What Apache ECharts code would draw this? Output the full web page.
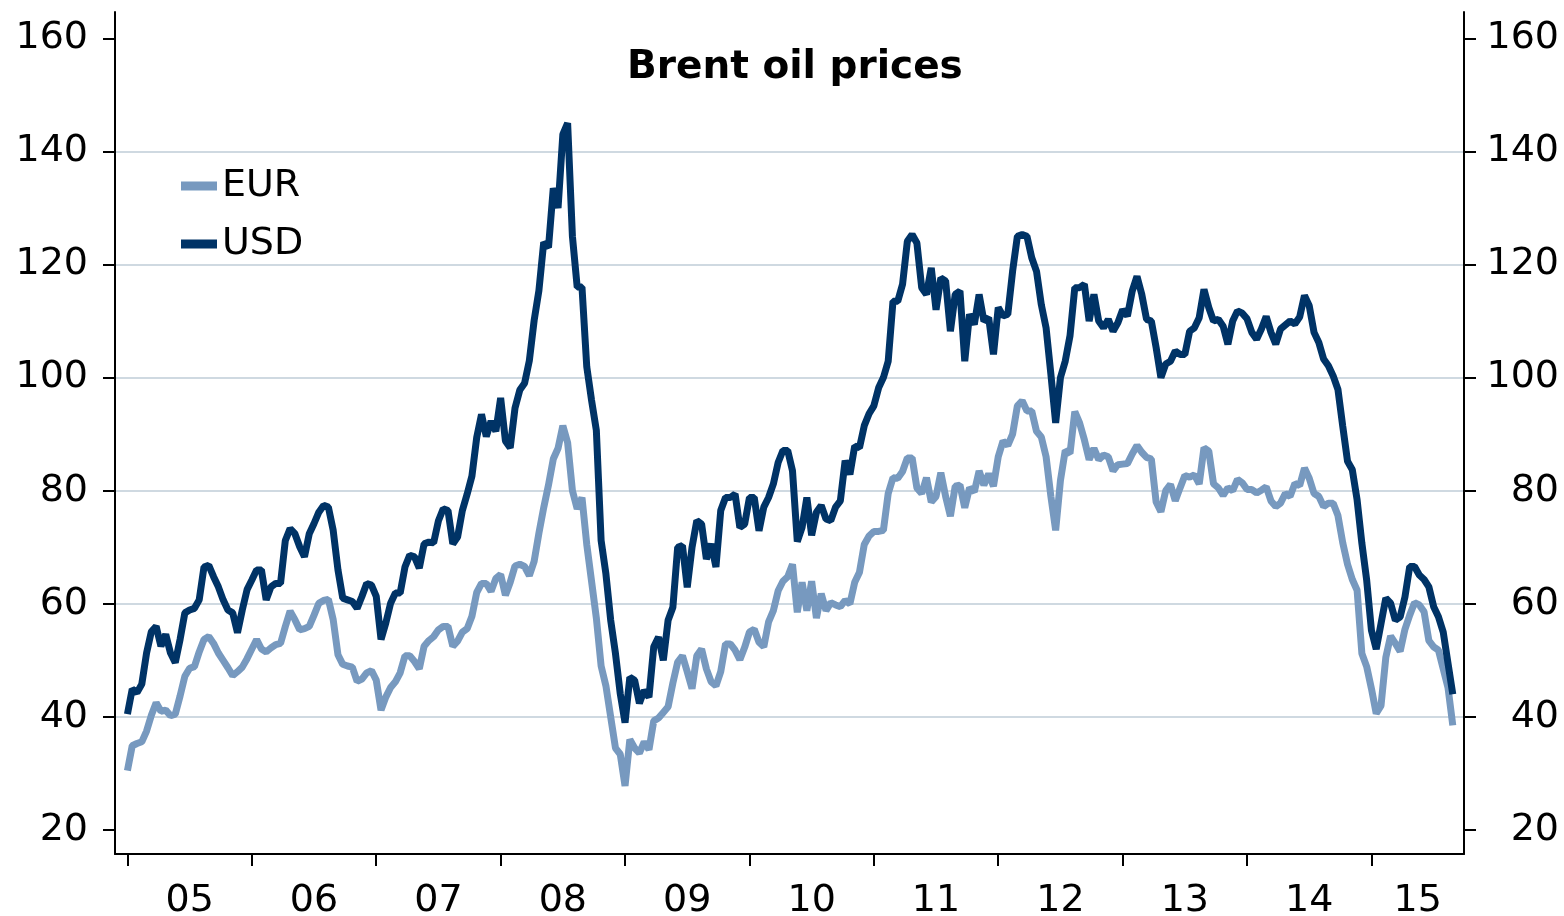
<!DOCTYPE html>
<html>
<head>
<meta charset="utf-8">
<title>Brent oil prices</title>
<script src="https://cdn.jsdelivr.net/npm/echarts@6/dist/echarts.min.js"></script>
<style>
  html, body { margin: 0; padding: 0; background: #fff; }
  #chart { width: 1564px; height: 916px; }
</style>
</head>
<body>
<div id="chart"></div>
<script>
// Brent oil prices per barrel, one reading every two weeks from January 2005
const startYear = 2005;
const perYear = 26;

const usd = [
  40.5, 44.9, 44.3, 45.8, 51.3, 55.1, 56.0, 52.5, 54.6, 51.3, 49.6, 53.7, 58.4, 58.9, 59.2, 60.7, 66.5, 66.8, 64.8, 63.0, 60.7, 58.9, 58.4, 54.9, 58.9, 62.5,
  64.2, 66.0, 66.0, 60.7, 63.0, 63.6, 63.6, 71.2, 73.3, 72.4, 70.1, 68.3, 72.4, 74.2, 76.2, 77.4, 77.1, 73.0, 66.0, 61.0, 60.7, 60.4, 59.2, 61.3, 63.6, 63.3,
  61.3, 53.7, 56.6, 60.1, 61.9, 61.9, 66.5, 68.6, 68.3, 66.3, 70.6, 70.9, 70.8, 74.7, 76.8, 76.5, 70.6, 71.8, 76.5, 79.4, 82.6, 89.4, 93.5, 89.6, 92.3, 90.5,
  96.4, 88.8, 87.6, 94.6, 97.8, 99.0, 103.0, 110.1, 115.4, 123.9, 123.0, 133.5, 130.0, 143.0, 145.0, 125.0, 116.0, 116.0, 101.9, 96.0, 90.7, 71.2, 65.3, 57.1, 51.2, 44.1,
  39.0, 47.0, 46.5, 42.4, 44.7, 43.5, 52.4, 54.1, 50.0, 57.1, 59.4, 70.0, 70.3, 62.9, 70.0, 74.7, 74.1, 67.9, 70.6, 66.5, 76.5, 78.8, 78.8, 79.4, 73.5, 74.1,
  78.8, 78.8, 72.9, 77.1, 78.8, 81.2, 85.0, 87.1, 87.1, 83.5, 71.0, 73.5, 78.8, 72.1, 76.2, 77.4, 75.0, 74.7, 77.1, 78.2, 85.3, 82.9, 87.9, 87.6, 91.5, 93.6,
  95.0, 98.2, 100.0, 102.9, 113.5, 113.5, 116.5, 124.1, 125.3, 123.8, 115.9, 114.7, 119.4, 112.0, 117.6, 117.1, 108.2, 114.7, 115.3, 102.9, 111.2, 109.4, 114.7, 110.0, 110.6, 104.1,
  112.4, 110.9, 111.2, 118.8, 125.0, 125.3, 125.0, 121.2, 118.8, 112.9, 108.8, 100.6, 92.0, 100.0, 102.9, 107.4, 115.9, 115.9, 116.5, 110.0, 114.7, 110.0, 108.8, 110.3, 108.2, 109.7,
  112.0, 110.9, 115.3, 117.9, 114.7, 110.3, 110.0, 105.3, 100.0, 102.4, 102.9, 104.7, 104.1, 104.1, 108.2, 108.8, 110.6, 115.6, 112.4, 110.0, 110.3, 109.1, 105.9, 110.0, 111.8, 111.4,
  110.4, 108.0, 106.8, 108.6, 110.8, 108.0, 105.9, 108.6, 109.3, 110.0, 109.5, 110.7, 114.5, 112.7, 108.0, 106.2, 103.3, 102.1, 100.3, 97.9, 91.4, 85.2, 83.7, 78.4, 70.7, 64.2,
  55.3, 52.0, 56.5, 61.0, 60.1, 57.1, 57.7, 61.2, 66.6, 66.6, 65.1, 64.3, 63.0, 59.5, 57.7, 55.0, 49.5, 44.0
];

const eur = [
  30.5, 34.9, 35.3, 35.6, 37.5, 40.3, 42.5, 41.0, 41.2, 40.2, 40.5, 43.7, 47.2, 48.6, 48.9, 51.5, 53.7, 54.2, 53.0, 51.3, 50.0, 48.7, 47.3, 48.0, 48.8, 50.3,
  52.0, 53.7, 52.0, 51.5, 52.2, 52.8, 53.0, 56.0, 58.7, 57.2, 55.4, 55.6, 56.0, 58.0, 60.1, 60.6, 60.8, 57.2, 51.0, 49.3, 49.0, 48.8, 46.3, 46.7, 47.8, 48.2,
  46.5, 41.2, 43.5, 45.2, 46.2, 47.8, 50.8, 50.8, 49.8, 48.5, 52.5, 53.5, 54.2, 55.4, 56.0, 56.0, 52.5, 53.4, 55.0, 55.6, 57.8, 62.0, 63.6, 63.6, 62.2, 64.5,
  65.2, 61.5, 63.8, 66.7, 67.0, 66.6, 65.0, 67.5, 72.5, 77.0, 81.0, 85.6, 87.5, 91.5, 88.5, 80.0, 76.8, 78.8, 70.5, 64.0, 57.5, 49.0, 45.5, 40.0, 34.5, 33.4,
  27.8, 36.0, 34.5, 33.6, 35.6, 34.2, 39.3, 39.8, 40.8, 41.8, 46.0, 49.7, 50.8, 48.0, 45.0, 50.8, 52.0, 48.5, 46.2, 45.5, 48.0, 52.9, 52.9, 51.8, 50.1, 52.3,
  55.0, 55.5, 53.2, 52.4, 56.8, 58.8, 62.3, 64.0, 64.8, 67.0, 58.5, 63.8, 58.8, 64.0, 57.5, 61.8, 58.8, 60.2, 59.8, 59.5, 60.6, 60.0, 63.8, 65.6, 70.5, 72.0,
  72.8, 72.8, 73.0, 79.5, 82.3, 82.2, 83.4, 85.8, 85.8, 80.5, 79.5, 82.3, 78.0, 79.0, 83.2, 79.0, 75.5, 80.8, 81.0, 77.0, 80.5, 79.8, 83.5, 81.0, 83.0, 80.8,
  86.0, 88.8, 88.0, 90.0, 95.0, 95.9, 94.1, 94.1, 90.5, 89.5, 86.0, 79.0, 73.0, 81.8, 87.1, 86.6, 94.0, 92.0, 89.0, 85.5, 87.5, 85.5, 86.3, 86.0, 83.5, 84.6,
  84.7, 84.8, 86.5, 88.0, 86.8, 85.9, 85.6, 78.0, 76.3, 80.0, 81.1, 78.2, 80.5, 82.7, 82.4, 82.8, 81.2, 87.6, 87.0, 81.2, 80.5, 79.2, 80.5, 80.0, 82.0, 81.4,
  80.2, 80.2, 79.6, 80.1, 80.7, 78.2, 77.2, 77.8, 79.5, 79.0, 81.3, 80.9, 84.0, 82.2, 79.5, 79.0, 77.2, 77.8, 77.8, 75.6, 70.8, 67.0, 64.3, 62.4, 51.2, 48.9,
  45.0, 40.6, 42.0, 50.5, 54.3, 53.0, 51.6, 55.5, 58.0, 60.2, 59.8, 58.6, 53.5, 52.4, 51.8, 48.5, 45.2, 38.5
];

const yTicks = [20, 40, 60, 80, 100, 120, 140, 160];
const yearTicks = [2005, 2006, 2007, 2008, 2009, 2010, 2011, 2012, 2013, 2014, 2015];
const yearLabels = ['05', '06', '07', '08', '09', '10', '11', '12', '13', '14', '15'];

const xMin = 2004.9, xMax = 2015.744;
const yMin = 15.76, yMax = 164.65;

const font = 'DejaVu Sans';
const eurColor = '#7799bf';
const usdColor = '#003366';

const toPairs = vals => vals.map((v, i) => [startYear + i / perYear, v]);
// labels sit in the middle of each year (last one: middle of the visible part)
const labelPos = yearTicks.map((y, i) => i < yearTicks.length - 1 ? y + 0.5 : (y + xMax) / 2);

const chart = echarts.init(document.getElementById('chart'));

const yAxisBase = {
  type: 'value',
  min: yMin,
  max: yMax,
  splitNumber: 7,
  minInterval: 20,
  maxInterval: 20,
  axisLine: { show: true, lineStyle: { color: '#000', width: 2 } },
  axisTick: { show: true, length: 12, lineStyle: { color: '#000', width: 2 }, customValues: yTicks },
};

chart.setOption({
  animation: false,
  backgroundColor: '#fff',
  textStyle: { fontFamily: font },
  title: {
    text: 'Brent oil prices',
    left: 622,
    top: 43,
    textStyle: { fontFamily: font, fontSize: 39, fontWeight: 'bold', color: '#000' }
  },
  legend: {
    data: ['EUR', 'USD'],
    orient: 'vertical',
    left: 176,
    top: 162,
    itemGap: 20,
    itemWidth: 36,
    itemHeight: 9,
    icon: 'rect',
    textStyle: { fontFamily: font, fontSize: 38, color: '#000' }
  },
  grid: { left: 115, right: 100, top: 12, bottom: 62, containLabel: false, outerBoundsMode: 'none' },
  xAxis: {
    type: 'value',
    min: xMin,
    max: xMax,
    splitLine: { show: false },
    axisLine: { lineStyle: { color: '#000', width: 2 } },
    axisTick: { length: 12, lineStyle: { color: '#000', width: 2 }, customValues: yearTicks },
    axisLabel: {
      customValues: labelPos,
      margin: 28,
      fontSize: 38,
      fontFamily: font,
      color: '#000',
      formatter: v => yearLabels[yearTicks.indexOf(Math.floor(v))]
    }
  },
  yAxis: [
    Object.assign({}, yAxisBase, {
      position: 'left',
      splitLine: { show: true, showMinLine: false, showMaxLine: false, lineStyle: { color: '#cfd9e1', width: 2 } },
      axisLabel: { customValues: yTicks, margin: 27, fontSize: 38, fontFamily: font, color: '#000' }
    }),
    Object.assign({}, yAxisBase, {
      position: 'right',
      splitLine: { show: false },
      axisLabel: { customValues: yTicks, margin: 95, align: 'right', fontSize: 38, fontFamily: font, color: '#000' }
    })
  ],
  series: [
    {
      name: 'EUR',
      type: 'line',
      data: toPairs(eur),
      showSymbol: false,
      color: eurColor,
      lineStyle: { width: 7, color: eurColor }
    },
    {
      name: 'USD',
      type: 'line',
      data: toPairs(usd),
      showSymbol: false,
      color: usdColor,
      lineStyle: { width: 7, color: usdColor }
    }
  ]
});
</script>
</body>
</html>
